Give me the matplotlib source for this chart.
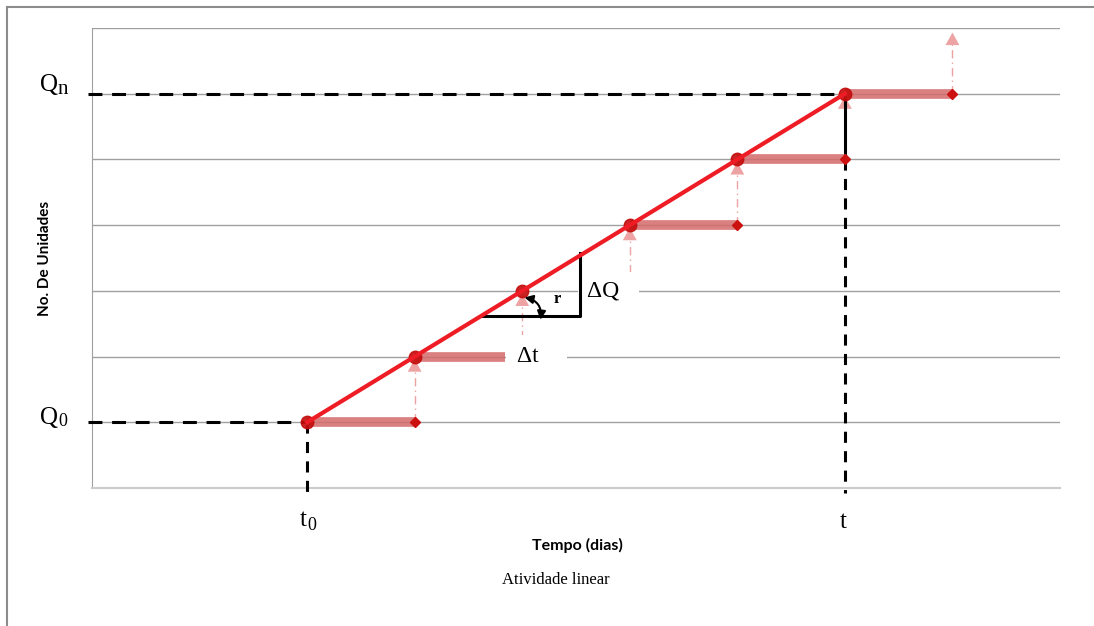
#Atividade linear - curva de produção em degraus
#%%
import matplotlib.pyplot as plt
from matplotlib.lines import Line2D

plt.rcParams['lines.scale_dashes'] = False

#%%
#Pontos da linha de produção (tempo, unidades)
t_pts = [2, 3, 4, 5, 6, 7]
q_pts = [1, 2, 3, 4, 5, 6]

#Degraus horizontais: inicio, fim, nivel
barra_ini = [2, 3, 5, 6, 7]
barra_fim = [3, 3.84, 6, 7, 8]
barra_niv = [1, 2, 4, 5, 6]

#Marcadores no fim de cada degrau
fim_x = [3, 6, 7, 8]
fim_y = [1, 4, 5, 6]

#Setas verticais pontilhadas
seta_x = [3, 4, 5, 6, 7, 8]
seta_y0 = [1, 2, 3, 4, 5, 6]
seta_y1 = [2, 3, 4, 5, 6, 6.97]

#Triangulo da inclinação
tri_x = [3.63, 4.535, 4.535]
tri_y = [2.62, 2.62, 3.58]

t0, tn = 2, 7
q0, qn = 1, 6

#%%
fig = plt.figure(figsize=(10.94, 6.26), dpi=100)
ax = fig.add_axes([92/1094, 1-488/626, 968/1094, 460/626])
ax.set_xlim(0, 9)
ax.set_ylim(0, 7)

#linhas de grade
for g in range(1, 8):
    ax.axhline(g, color='#a0a0a0', lw=1, zorder=1)
ax.spines['top'].set_visible(False)
ax.spines['right'].set_visible(False)
ax.spines['left'].set_color('#a0a0a0')
ax.spines['bottom'].set_color('#cccccc')
ax.spines['bottom'].set_linewidth(1.5)
ax.set_xticks([])
ax.set_yticks([])

#moldura externa
fig.add_artist(Line2D([7/1094, 1], [1-7/626, 1-7/626], color='#8c8c8c', lw=1.5))
fig.add_artist(Line2D([7/1094, 7/1094], [0, 1-7/626], color='#8c8c8c', lw=1.5))

#linhas tracejadas de referencia
ax.plot([-0.04, t0], [q0, q0], color='black', lw=2.2, dashes=(10, 7), clip_on=False, zorder=3)
ax.plot([-0.04, tn], [qn, qn], color='black', lw=2.2, dashes=(10, 7), clip_on=False, zorder=3)
ax.plot([t0, t0], [q0, -0.07], color='black', lw=2.2, dashes=(8, 6), clip_on=False, zorder=3)
ax.plot([tn, tn], [5, -0.07], color='black', lw=2.2, dashes=(8, 6), clip_on=False, zorder=3)
ax.plot([tn, tn], [5, 6], color='black', lw=2.2, zorder=3)

#setas verticais
for x, a, b in zip(seta_x, seta_y0, seta_y1):
    ax.plot([x, x], [a, b - 0.15], color='#eda3a3', lw=1, linestyle=(0, (6, 3, 1, 3)), zorder=2)
    ax.annotate('', xy=(x, b - 0.04), xytext=(x, b - 0.3),
                arrowprops=dict(arrowstyle='-|>,head_width=0.5,head_length=0.9',
                                color='#eda3a3', lw=0, shrinkA=0, shrinkB=0), zorder=2)

#degraus
for a, b, n in zip(barra_ini, barra_fim, barra_niv):
    ax.plot([a, b], [n, n], color='#d46a6a', lw=7, alpha=0.85, solid_capstyle='butt', zorder=4)
ax.plot(fim_x, fim_y, linestyle='none', marker='D', markersize=5, color='#cc1111', zorder=5)

#triangulo
ax.plot(tri_x, tri_y, color='black', lw=2.2, zorder=4)
ax.annotate('', xy=(4.02, 2.9), xytext=(4.17, 2.56),
            arrowprops=dict(arrowstyle='<|-|>,head_width=0.25,head_length=0.5',
                            color='black', lw=1.5, connectionstyle='arc3,rad=0.45',
                            shrinkA=0, shrinkB=0), zorder=6)

#linha de produção
ax.plot(t_pts, q_pts, color='#ee1c25', lw=3, zorder=6)
ax.plot(t_pts, q_pts, linestyle='none', marker='o', markersize=9, color='#c40c0c', alpha=0.9, zorder=5)

#textos
serif = 'Liberation Serif'
ax.text(4.33, 2.88, 'r', fontsize=12, fontweight='bold', family=serif, ha='center', va='center', zorder=7)
ax.text(4.6, 3.0, 'ΔQ  ', fontsize=17, family=serif, ha='left', va='center', zorder=3,
        bbox=dict(facecolor='white', edgecolor='none', pad=6))
ax.text(3.95, 2.0, 'Δt   ', fontsize=17, family=serif, ha='left', va='center', zorder=3,
        bbox=dict(facecolor='white', edgecolor='none', pad=8))

fig.text(58/1094, 1-85/626, 'Q', fontsize=18, family=serif, ha='right', va='center')
fig.text(58/1094, 1-89/626, 'n', fontsize=15, family=serif, ha='left', va='center')
fig.text(58/1094, 1-418/626, 'Q', fontsize=18, family=serif, ha='right', va='center')
fig.text(58/1094, 1-422/626, '0', fontsize=13, family=serif, ha='left', va='center')
fig.text(307/1094, 1-520/626, 't', fontsize=18, family=serif, ha='right', va='center')
fig.text(307/1094, 1-526/626, '0', fontsize=13, family=serif, ha='left', va='center')
fig.text(843/1094, 1-522/626, 't', fontsize=18, family=serif, ha='center', va='center')

fig.text(577/1094, 1-545/626, 'Tempo (dias)', fontsize=11.5, fontweight='bold', family='Lato',
         ha='center', va='center')
fig.text(556/1094, 1-580/626, 'Atividade linear', fontsize=12, family=serif, ha='center', va='center')
fig.text(45/1094, 1-258/626, 'No. De Unidades', fontsize=11, fontweight='bold', family='Lato',
         rotation=90, ha='center', va='center')

plt.savefig('out.png', dpi=100)
